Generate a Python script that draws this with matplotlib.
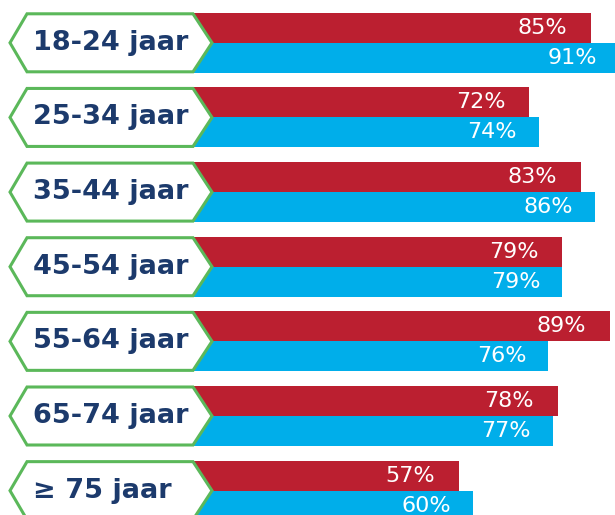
import matplotlib
matplotlib.use("Agg")
import matplotlib.pyplot as plt
from matplotlib.patches import Polygon

# age groups, top to bottom
groups = ["18-24 jaar", "25-34 jaar", "35-44 jaar", "45-54 jaar",
          "55-64 jaar", "65-74 jaar", "\u2265 75 jaar"]
red_vals = [85, 72, 83, 79, 89, 78, 57]
blue_vals = [91, 74, 86, 79, 76, 77, 60]

RED = "#BB1F30"
BLUE = "#00AEEA"
GREEN = "#5BB85A"
NAVY = "#1C3A6C"

fig = plt.figure(figsize=(6.15, 5.15), dpi=100)
ax = fig.add_axes([0, 0, 1, 1])
ax.axis("off")

px = 4.714      # pixels per percent
row = 74.64     # pixels per row
ax.set_xlim(-190 / px, 425 / px)
ax.set_ylim((515 - 42.8) / row, -42.8 / row)

h = 30 / row
for i, (r, b) in enumerate(zip(red_vals, blue_vals)):
    ax.barh(i - h / 2, r, height=h, color=RED, zorder=1)
    ax.barh(i + h / 2, b, height=h, color=BLUE, zorder=1)
    ax.text(r - 24 / px, i - h / 2, f"{r}%", color="white", fontsize=16,
            ha="right", va="center", zorder=3)
    ax.text(b - 22 / px, i + h / 2, f"{b}%", color="white", fontsize=16,
            ha="right", va="center", zorder=3)

# hexagon labels
hh = 29 / row
xl, xtl, xtr, xr = (10 - 190) / px, (27 - 190) / px, (193 - 190) / px, (212 - 190) / px
for i, g in enumerate(groups):
    pts = [(xl, i), (xtl, i - hh), (xtr, i - hh), (xr, i), (xtr, i + hh), (xtl, i + hh)]
    ax.add_patch(Polygon(pts, closed=True, facecolor="white", edgecolor=GREEN,
                         linewidth=2.2, zorder=2))
    ax.text((33 - 190) / px, i, g, color=NAVY, fontsize=19.5,
            fontweight="bold", ha="left", va="center", zorder=3)

fig.savefig("out.png", dpi=100)
